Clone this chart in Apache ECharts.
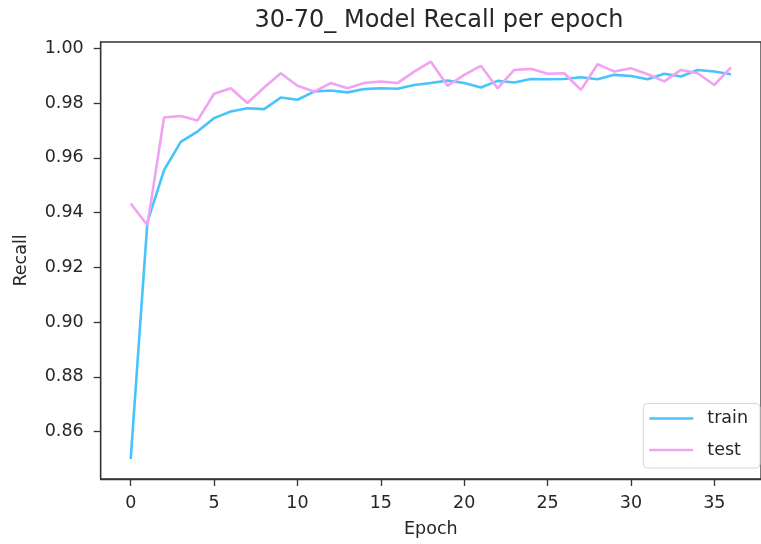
<!DOCTYPE html>
<html>
<head>
<meta charset="utf-8">
<script src="https://cdn.jsdelivr.net/npm/echarts@6/dist/echarts.min.js"></script>
<style>
  html, body { margin: 0; padding: 0; background: #fff; }
  #myChart { width: 761px; height: 544px; }
</style>
</head>
<body>
<div id="myChart"></div>
<script>
// epochs (x values)
const epochs = [0, 1, 2, 3, 4, 5, 6, 7, 8, 9, 10, 11, 12, 13, 14, 15, 16, 17, 18,
  19, 20, 21, 22, 23, 24, 25, 26, 27, 28, 29, 30, 31, 32, 33, 34, 35, 36];
const trainRecall = [0.850, 0.9365, 0.9555, 0.9658, 0.9696, 0.9745, 0.9769, 0.9781, 0.9778,
  0.982, 0.9812, 0.9842, 0.9846, 0.9839, 0.9851, 0.9854, 0.9852, 0.9866, 0.9873, 0.9882,
  0.9873, 0.9857, 0.9881, 0.9875, 0.9888, 0.9887, 0.9888, 0.9894, 0.9887, 0.9903, 0.9899,
  0.9887, 0.9907, 0.9897, 0.9921, 0.9915, 0.9905];
const testRecall = [0.9433, 0.9354, 0.9747, 0.9753, 0.9736, 0.9834, 0.9854, 0.980, 0.9857,
  0.9909, 0.9863, 0.9842, 0.9873, 0.9854, 0.9873, 0.9879, 0.9873, 0.9915, 0.9951, 0.9863,
  0.9903, 0.9936, 0.9854, 0.9921, 0.9925, 0.9907, 0.9909, 0.9848, 0.9942, 0.9915, 0.9927,
  0.9905, 0.9879, 0.9921, 0.9909, 0.9866, 0.993];
const xTicks = [0, 5, 10, 15, 20, 25, 30, 35];
const yTicks = [0.86, 0.88, 0.90, 0.92, 0.94, 0.96, 0.98, 1.00];

const font = "DejaVu Sans";
const ink = "#262626";

let myChart = echarts.init(document.getElementById("myChart"));
myChart.setOption({
  animation: false,
  title: {
    text: "30-70_ Model Recall per epoch",
    left: 434,
    top: 4,
    textAlign: "center",
    textStyle: { fontFamily: font, fontSize: 24, fontWeight: "normal", color: ink }
  },
  grid: {
    left: 100.7,
    top: 42,
    width: 666.5,
    height: 437,
    show: true,
    borderColor: "#333",
    borderWidth: 1.3,
    backgroundColor: "transparent"
  },
  legend: {
    orient: "vertical",
    right: 1,
    bottom: 76,
    data: [{ name: "train", icon: "rect" }, { name: "test", icon: "rect" }],
    itemWidth: 44,
    itemHeight: 2.6,
    itemGap: 11.5,
    padding: [5, 12, 8, 6],
    backgroundColor: "#fff",
    borderColor: "#d6d6d6",
    borderWidth: 1,
    borderRadius: 4,
    textStyle: { fontFamily: font, fontSize: 17.5, color: ink, lineHeight: 20, padding: [0, 0, 0, 9] }
  },
  xAxis: {
    type: "value",
    min: -1.8,
    max: 37.8,
    name: "Epoch",
    nameLocation: "middle",
    nameGap: 41,
    nameTextStyle: { fontFamily: font, fontSize: 17.5, color: ink },
    axisLine: { onZero: false, lineStyle: { color: "#333", width: 1.3 } },
    axisTick: { show: true, length: 7, customValues: xTicks, lineStyle: { color: "#333", width: 1.3 } },
    axisLabel: { customValues: xTicks, margin: 15, fontFamily: font, fontSize: 17.5, color: ink },
    splitLine: { show: false }
  },
  yAxis: {
    type: "value",
    min: 0.8427,
    max: 1.0023,
    name: "Recall",
    nameLocation: "middle",
    nameGap: 70,
    nameTextStyle: { fontFamily: font, fontSize: 17.5, color: ink },
    axisLine: { show: true, onZero: false, lineStyle: { color: "#333", width: 1.3 } },
    axisTick: { show: true, length: 7, customValues: yTicks, lineStyle: { color: "#333", width: 1.3 } },
    axisLabel: {
      customValues: yTicks,
      margin: 17,
      fontFamily: font,
      fontSize: 17.5,
      color: ink,
      formatter: v => v.toFixed(2)
    },
    splitLine: { show: false }
  },
  series: [
    {
      name: "train",
      type: "line",
      data: epochs.map((e, i) => [e, trainRecall[i]]),
      symbol: "none",
      color: "#47c4fb",
      lineStyle: { width: 2.6, color: "#47c4fb" }
    },
    {
      name: "test",
      type: "line",
      data: epochs.map((e, i) => [e, testRecall[i]]),
      symbol: "none",
      color: "#f2a2f2",
      lineStyle: { width: 2.6, color: "#f2a2f2" }
    }
  ]
});
</script>
</body>
</html>
